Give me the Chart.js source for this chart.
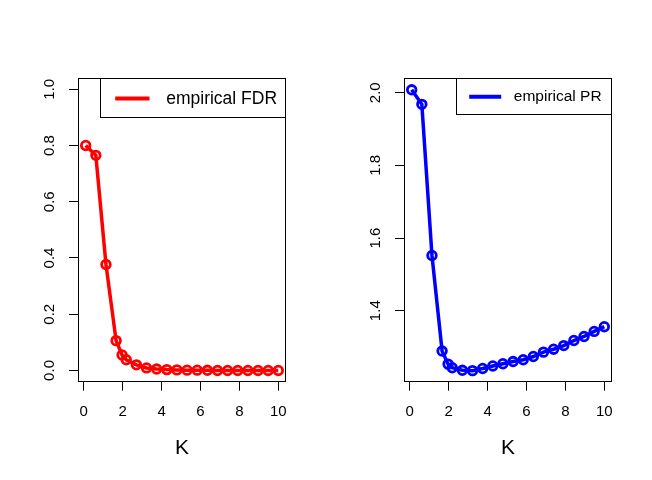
<!DOCTYPE html>
<html>
<head>
<meta charset="utf-8">
<script src="https://cdn.jsdelivr.net/npm/chart.js@4.4.1/dist/chart.umd.min.js"></script>
<style>
  html, body { margin: 0; padding: 0; background: #fff; }
  .panel { position: absolute; top: 0; width: 326px; height: 480px; }
  #p1 { left: 0; }
  #p2 { left: 326px; }
</style>
</head>
<body>
<div class="panel" id="p1"><canvas id="c1" width="326" height="480"></canvas></div>
<div class="panel" id="p2"><canvas id="c2" width="326" height="480"></canvas></div>
<script>
// ---- data ----
const K = [0.1, 0.621, 1.142, 1.663, 1.97, 2.184, 2.705, 3.226, 3.747, 4.268, 4.789,
           5.311, 5.832, 6.353, 6.874, 7.395, 7.916, 8.437, 8.958, 9.479, 10];
const empiricalFDR = [0.800, 0.765, 0.377, 0.106, 0.055, 0.038, 0.020, 0.009, 0.005, 0.003, 0.002,
                      0.001, 0.001, 0.0005, 0, 0, 0, 0, 0, 0, 0];
const empiricalPR = [2.008, 1.968, 1.552, 1.289, 1.253, 1.243, 1.236, 1.235, 1.241, 1.248, 1.254,
                     1.260, 1.265, 1.274, 1.286, 1.294, 1.304, 1.318, 1.329, 1.343, 1.356];
const xTickValues = [0, 2, 4, 6, 8, 10];
const fdrTickValues = [0, 0.2, 0.4, 0.6, 0.8, 1.0];
const prTickValues = [1.4, 1.6, 1.8, 2.0];
const xLabel = 'K';
const fdrLegend = 'empirical FDR';
const prLegend = 'empirical PR';

const FONT = "'Liberation Sans', Arial, Helvetica, sans-serif";

const boxPlugin = {
  id: 'rbox',
  afterDraw(chart) {
    const { ctx, chartArea: a } = chart;
    ctx.save();
    ctx.strokeStyle = '#000';
    ctx.lineWidth = 1;
    const x0 = Math.round(a.left) + 0.5, x1 = Math.round(a.right) - 0.5;
    const y0 = Math.round(a.top) + 0.5, y1 = Math.round(a.bottom) - 0.5;
    ctx.strokeRect(x0, y0, x1 - x0, y1 - y0);
    // legend
    const L = chart.options.plugins.rlegend;
    const bx = Math.round(a.right - L.w) + 0.5, by = y0;
    ctx.fillStyle = '#fff';
    ctx.fillRect(bx, by, x1 - bx, L.h);
    ctx.strokeRect(bx, by, x1 - bx, Math.round(L.h));
    ctx.strokeStyle = L.color;
    ctx.lineWidth = 4;
    ctx.beginPath();
    ctx.moveTo(bx + L.l1, by + L.ly);
    ctx.lineTo(bx + L.l2, by + L.ly);
    ctx.stroke();
    ctx.fillStyle = '#000';
    ctx.font = L.size + 'px ' + FONT;
    ctx.textBaseline = 'middle';
    ctx.textAlign = 'left';
    ctx.fillText(L.text, bx + L.tx, by + L.ty);
    ctx.restore();
  }
};

function makeChart(id, values, color, yMin, yMax, yTicks, legend) {
  return new Chart(document.getElementById(id), {
    type: 'line',
    data: {
      datasets: [{
        data: K.map((k, i) => ({ x: k, y: values[i] })),
        borderColor: color,
        borderWidth: 3.5,
        pointRadius: 4.3,
        pointBorderWidth: 2.8,
        pointBackgroundColor: 'rgba(0,0,0,0)',
        pointBorderColor: color,
        pointHoverRadius: 4.3,
        tension: 0,
        fill: false
      }]
    },
    options: {
      responsive: false,
      animation: false,
      devicePixelRatio: 1,
      layout: { padding: { top: 78, right: 40, bottom: 0, left: 0 } },
      plugins: {
        legend: { display: false },
        tooltip: { enabled: false },
        rlegend: legend
      },
      scales: {
        x: {
          type: 'linear',
          min: -0.296, max: 10.396,
          afterFit: s => { s.height = 98.3; },
          afterBuildTicks: s => { s.ticks = xTickValues.map(v => ({ value: v })); },
          border: { display: false },
          grid: { drawOnChartArea: false, drawTicks: true, tickLength: 9, color: '#000', lineWidth: 1 },
          ticks: {
            padding: 12, color: '#000', maxRotation: 0, autoSkip: false,
            font: { family: FONT, size: 15 },
            callback: v => String(v)
          },
          title: {
            display: true, text: xLabel, color: '#000',
            font: { family: FONT, size: 21 },
            padding: { top: 0, bottom: 19 }
          }
        },
        y: {
          type: 'linear',
          min: yMin, max: yMax,
          afterFit: s => { s.width = 78; },
          afterBuildTicks: s => { s.ticks = yTicks.map(v => ({ value: v })); },
          border: { display: false },
          grid: { drawOnChartArea: false, drawTicks: true, tickLength: 9, color: '#000', lineWidth: 1 },
          ticks: {
            padding: 9, color: '#000', minRotation: 90, maxRotation: 90,
            crossAlign: 'center', autoSkip: false,
            font: { family: FONT, size: 15 },
            callback: v => Number(v).toFixed(1)
          }
        }
      }
    },
    plugins: [boxPlugin]
  });
}

makeChart('c1', empiricalFDR, '#ff0000', -0.04, 1.04, fdrTickValues,
  { text: fdrLegend, color: '#ff0000', size: 17.5, w: 185.7, h: 39.3, l1: 14.7, l2: 49, ly: 20, tx: 65.7, ty: 20.5 });
makeChart('c2', empiricalPR, '#0000ff', 1.2046, 2.0405, prTickValues,
  { text: prLegend, color: '#0000ff', size: 15.5, w: 155.7, h: 36, l1: 12.7, l2: 44.7, ly: 18.3, tx: 57.3, ty: 18.5 });
</script>
</body>
</html>
